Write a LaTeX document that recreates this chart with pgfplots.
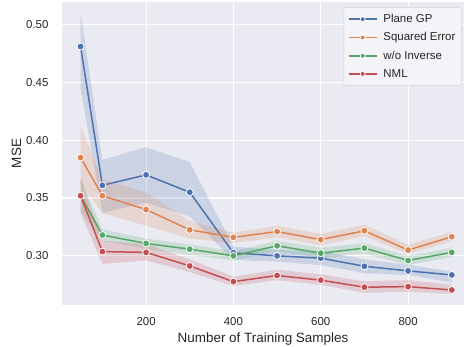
\documentclass[border=0pt]{standalone}
\usepackage{pgfplots}
\pgfplotsset{compat=1.18}
\usepackage{fontspec}
\setmainfont{Liberation Sans}
\definecolor{sbblue}{HTML}{4C72B0}
\definecolor{sborange}{HTML}{DD8452}
\definecolor{sbgreen}{HTML}{55A868}
\definecolor{sbred}{HTML}{C44E52}
\definecolor{sbbg}{HTML}{EAEAF2}
\definecolor{sbtext}{HTML}{262626}
\begin{document}
\begin{tikzpicture}
\path[use as bounding box] (-62bp,-42bp) rectangle (402bp,305bp);
\begin{axis}[
  at={(0,0)}, anchor=south west,
  scale only axis, width=402bp, height=303bp,
  xmin=7.5, xmax=928, ymin=0.2575, ymax=0.5195,
  axis background/.style={fill=sbbg},
  axis line style={draw=none},
  major tick length=0pt,
  grid=major, grid style={white, line width=1.1bp},
  xtick={200,400,600,800},
  ytick={0.30,0.35,0.40,0.45,0.50},
  /pgf/number format/assume math mode=true,
  tick label style={font=\fontsize{11.5}{13}\selectfont, text=sbtext},
  xticklabel style={yshift=-9bp},
  yticklabel style={xshift=-10bp, /pgf/number format/.cd, fixed, fixed zerofill, precision=2},
  xlabel={Number of Training Samples}, ylabel={MSE},
  label style={font=\fontsize{13.5}{15}\selectfont, text=sbtext},
  xlabel style={yshift=0bp},
  ylabel style={yshift=-2bp},
  legend style={at={(0.994,0.983)}, anchor=north east, fill=sbbg!55!white, draw=black!18, rounded corners=2bp, font=\fontsize{11.5}{13}\selectfont, text=sbtext, row sep=4.5bp, column sep=4bp, inner xsep=4bp, inner ysep=5bp},
  legend cell align=left,
  legend image code/.code={\draw[mark repeat=2, mark phase=2, #1, line width=1.5bp, mark size=2.5bp] plot coordinates {(0bp,0bp) (14bp,0bp) (28bp,0bp)};},
  line/.style={line width=1.5bp, mark=*, mark size=3.5bp, mark options={draw=white, line width=0.8bp}},
  band/.style={draw=none, mark=none, fill=#1, fill opacity=0.2, forget plot},
]
% Plane GP band (upper forward, lower backward)
\addplot[band=sbblue] table {
50 0.510
100 0.383
200 0.394
300 0.381
400 0.308
500 0.305
600 0.304
700 0.297
800 0.2922
900 0.2864
900 0.2769
800 0.2835
700 0.285
600 0.292
500 0.295
400 0.2965
300 0.334
200 0.346
100 0.337
50 0.445
} -- cycle;
\addplot[line, sbblue] table {
50 0.481
100 0.361
200 0.370
300 0.355
400 0.3026
500 0.300
600 0.298
700 0.291
800 0.287
900 0.2835
};
\addlegendentry{Plane GP}
% Squared Error band
\addplot[band=sborange] table {
50 0.412
100 0.366
200 0.355
300 0.330
400 0.320
500 0.326
600 0.319
700 0.327
800 0.3095
900 0.321
900 0.3124
800 0.3017
700 0.317
600 0.309
500 0.316
400 0.311
300 0.315
200 0.326
100 0.337
50 0.362
} -- cycle;
\addplot[line, sborange] table {
50 0.385
100 0.352
200 0.340
300 0.3225
400 0.316
500 0.321
600 0.314
700 0.3217
800 0.305
900 0.3165
};
\addlegendentry{Squared Error}
% w/o Inverse band
\addplot[band=sbgreen] table {
50 0.367
100 0.323
200 0.315
300 0.310
400 0.304
500 0.313
600 0.307
700 0.311
800 0.300
900 0.307
900 0.299
800 0.292
700 0.302
600 0.298
500 0.304
400 0.296
300 0.301
200 0.306
100 0.313
50 0.338
} -- cycle;
\addplot[line, sbgreen] table {
50 0.352
100 0.318
200 0.3107
300 0.3058
400 0.300
500 0.3087
600 0.3023
700 0.3067
800 0.296
900 0.303
};
\addlegendentry{w/o Inverse}
% NML band
\addplot[band=sbred] table {
50 0.367
100 0.313
200 0.310
300 0.297
400 0.282
500 0.288
600 0.284
700 0.278
800 0.279
900 0.275
900 0.267
800 0.269
700 0.268
600 0.275
500 0.279
400 0.274
300 0.286
200 0.296
100 0.293
50 0.337
} -- cycle;
\addplot[line, sbred] table {
50 0.352
100 0.3037
200 0.303
300 0.2913
400 0.2777
500 0.283
600 0.279
700 0.2729
800 0.2734
900 0.2705
};
\addlegendentry{NML}
\end{axis}
\end{tikzpicture}
\end{document}
